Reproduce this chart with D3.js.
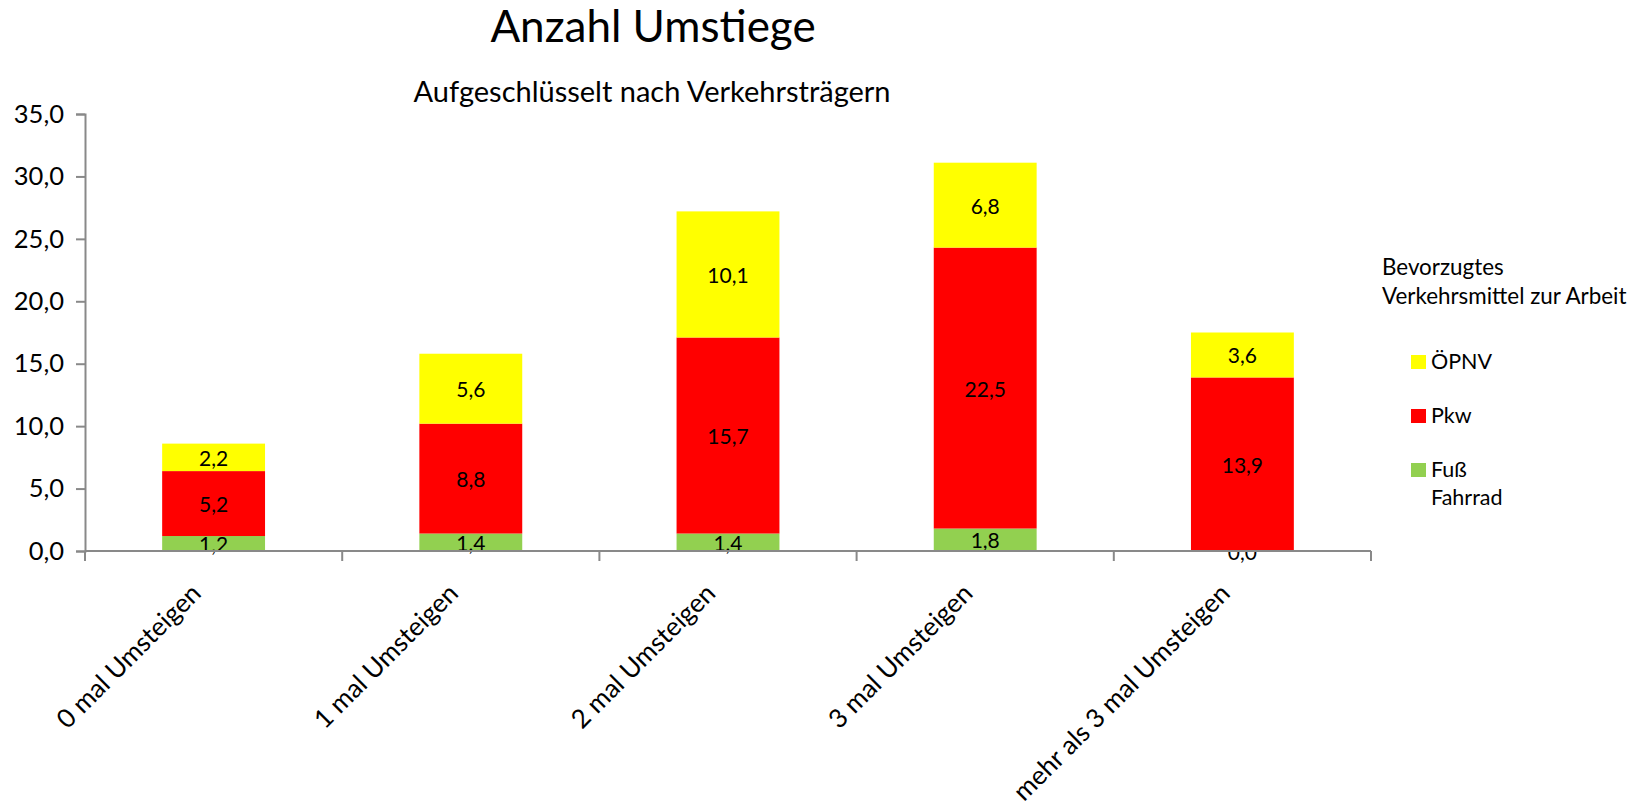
<!DOCTYPE html>
<html>
<head>
<meta charset="utf-8">
<script src="https://cdn.jsdelivr.net/npm/d3@7"></script>
<style>
  body { margin: 0; background: #fff; }
  svg { font-family: Lato, "Open Sans", sans-serif; }
</style>
</head>
<body>
<svg id="chart" width="1645" height="809"></svg>
<script>
const categories = ['0 mal Umsteigen', '1 mal Umsteigen', '2 mal Umsteigen', '3 mal Umsteigen', 'mehr als 3 mal Umsteigen'];
const fussFahrrad = [1.2, 1.4, 1.4, 1.8, 0.0];
const pkw = [5.2, 8.8, 15.7, 22.5, 13.9];
const oepnv = [2.2, 5.6, 10.1, 6.8, 3.6];
const yTicks = [0, 5, 10, 15, 20, 25, 30, 35];

const seriesNames = ['Fuß Fahrrad', 'Pkw', 'ÖPNV'];
const colors = {'Fuß Fahrrad': '#92d050', 'Pkw': '#ff0000', 'ÖPNV': '#ffff00'};

const rows = categories.map((c, i) => ({
  cat: c,
  'Fuß Fahrrad': fussFahrrad[i],
  'Pkw': pkw[i],
  'ÖPNV': oepnv[i]
}));

const de = d3.formatLocale({decimal: ',', thousands: '.', grouping: [3], currency: ['', ' €']});
const fmt = de.format('.1f');

const svg = d3.select('#chart');
const axisColor = '#898989';

const x = d3.scaleBand()
  .domain(categories)
  .range([85, 1371])
  .paddingInner(0.6)
  .paddingOuter(0.3);

const y = d3.scaleLinear()
  .domain([0, 35])
  .range([551, 114]);

// Titles
svg.append('text')
  .attr('x', 653).attr('y', 42)
  .attr('text-anchor', 'middle')
  .style('font-size', '44px')
  .text('Anzahl Umstiege');

svg.append('text')
  .attr('x', 652).attr('y', 102)
  .attr('text-anchor', 'middle')
  .style('font-size', '29px')
  .text('Aufgeschlüsselt nach Verkehrsträgern');

// Stacked bars
const stack = d3.stack().keys(seriesNames);
const stacked = stack(rows);

const layers = svg.append('g').selectAll('g')
  .data(stacked)
  .enter().append('g')
  .attr('fill', d => colors[d.key]);

layers.selectAll('rect')
  .data(d => d)
  .enter().append('rect')
  .attr('x', d => x(d.data.cat))
  .attr('y', d => y(d[1]))
  .attr('width', x.bandwidth())
  .attr('height', d => y(d[0]) - y(d[1]));

// Y axis
const yAxis = svg.append('g')
  .attr('transform', 'translate(85,0)')
  .call(d3.axisLeft(y).tickValues(yTicks).tickSize(9).tickPadding(12).tickFormat(fmt));
yAxis.select('.domain').attr('stroke', axisColor).attr('stroke-width', 2);
yAxis.selectAll('.tick line').attr('stroke', axisColor).attr('stroke-width', 2);
yAxis.selectAll('.tick text')
  .style('font-size', '25.5px')
  .style('font-family', 'Lato, sans-serif')
  .attr('fill', '#000');

// X axis (ticks between categories)
const xAxis = svg.append('g');
const bounds = d3.range(categories.length + 1).map(i => x.range()[0] + i * x.step());
xAxis.append('line')
  .attr('x1', x.range()[0]).attr('x2', x.range()[1])
  .attr('y1', y(0)).attr('y2', y(0))
  .attr('stroke', axisColor).attr('stroke-width', 2);
xAxis.selectAll('.btick')
  .data(bounds)
  .enter().append('line')
  .attr('x1', d => d).attr('x2', d => d)
  .attr('y1', y(0)).attr('y2', y(0) + 10)
  .attr('stroke', axisColor).attr('stroke-width', 2);

xAxis.selectAll('.clabel')
  .data(categories)
  .enter().append('text')
  .attr('text-anchor', 'end')
  .attr('transform', d => `translate(${x(d) + x.bandwidth() / 2 - 11},${y(0) + 44}) rotate(-45)`)
  .style('font-size', '26px')
  .text(d => d);

// Data labels
layers.selectAll('.vlabel')
  .data(d => d)
  .enter().append('text')
  .attr('x', d => x(d.data.cat) + x.bandwidth() / 2)
  .attr('y', d => (y(d[0]) + y(d[1])) / 2)
  .attr('text-anchor', 'middle')
  .attr('dominant-baseline', 'central')
  .attr('fill', '#000')
  .style('font-size', '21px')
  .text(d => fmt(d[1] - d[0]));

// Legend
const legend = svg.append('g');
legend.append('text')
  .attr('x', 1382).attr('y', 275)
  .style('font-size', '22.4px')
  .text('Bevorzugtes');
legend.append('text')
  .attr('x', 1382).attr('y', 304)
  .style('font-size', '22.4px')
  .text('Verkehrsmittel zur Arbeit');

const legendItems = [
  {key: 'ÖPNV', lines: ['ÖPNV']},
  {key: 'Pkw', lines: ['Pkw']},
  {key: 'Fuß Fahrrad', lines: ['Fuß', 'Fahrrad']}
];

const li = legend.selectAll('.item')
  .data(legendItems)
  .enter().append('g')
  .attr('transform', (d, i) => `translate(1411,${355 + i * 54})`);

li.append('rect')
  .attr('width', 15).attr('height', 14)
  .attr('fill', d => colors[d.key]);

li.append('text')
  .attr('x', 20).attr('y', 14)
  .style('font-size', '21.5px')
  .selectAll('tspan')
  .data(d => d.lines)
  .enter().append('tspan')
  .attr('x', 20)
  .attr('dy', (d, i) => i === 0 ? 0 : 28)
  .text(d => d);
</script>
</body>
</html>
